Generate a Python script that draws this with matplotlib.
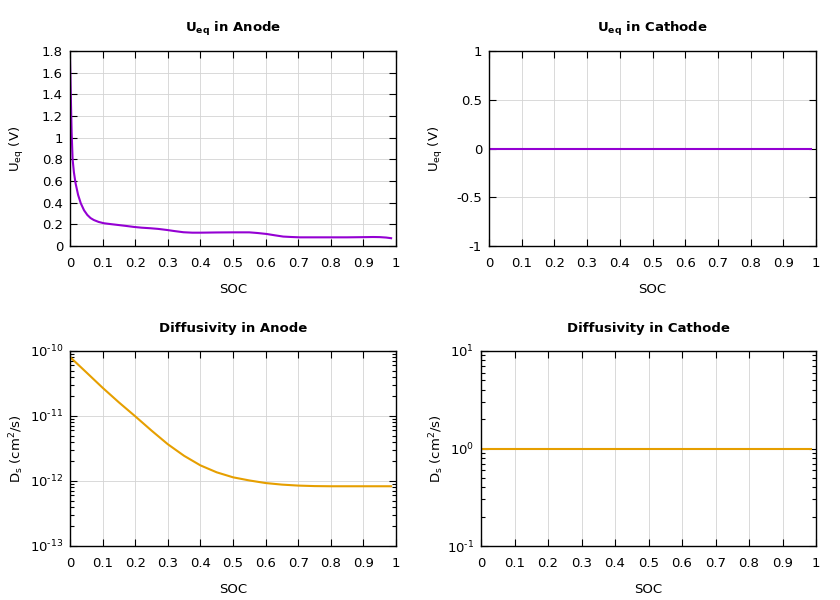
import numpy as np
import matplotlib.pyplot as plt
from matplotlib.ticker import FixedLocator, LogLocator, NullFormatter

plt.rcParams['font.family'] = ['DejaVu Sans']
plt.rcParams['mathtext.fontset'] = 'dejavusans'
plt.rcParams['font.size'] = 9.5

# anode equilibrium potential
soc_u = [0.0, 0.002, 0.005, 0.008, 0.012, 0.017, 0.025, 0.033, 0.043, 0.053,
         0.063, 0.073, 0.088, 0.104, 0.125, 0.145, 0.17, 0.196, 0.22, 0.246,
         0.27, 0.297, 0.32, 0.348, 0.375, 0.40, 0.45, 0.50, 0.55, 0.575, 0.603,
         0.63, 0.654, 0.68, 0.705, 0.75, 0.806, 0.85, 0.908, 0.93, 0.95, 0.97, 0.985]
u_anode = [1.74, 1.45, 1.05, 0.80, 0.68, 0.58, 0.47, 0.395, 0.33, 0.287,
           0.258, 0.24, 0.222, 0.21, 0.202, 0.195, 0.186, 0.176, 0.169, 0.164,
           0.158, 0.148, 0.138, 0.127, 0.123, 0.123, 0.125, 0.126, 0.126, 0.12, 0.111,
           0.098, 0.087, 0.083, 0.08, 0.08, 0.08, 0.08, 0.082, 0.083, 0.082, 0.078, 0.072]

# anode diffusivity
soc_d = [0.0, 0.05, 0.10, 0.15, 0.20, 0.25, 0.30, 0.35, 0.40, 0.45, 0.50,
         0.55, 0.60, 0.65, 0.70, 0.75, 0.80, 0.90, 0.985]
d_anode = [8.1e-11, 4.7e-11, 2.72e-11, 1.62e-11, 9.9e-12, 5.97e-12, 3.68e-12,
           2.44e-12, 1.74e-12, 1.36e-12, 1.14e-12, 1.02e-12, 9.3e-13, 8.8e-13,
           8.5e-13, 8.35e-13, 8.3e-13, 8.3e-13, 8.3e-13]

# cathode: constant
soc_c = [0.0, 0.985]
u_cathode = [0.0, 0.0]
d_cathode = [1.0, 1.0]

xticks = np.round(np.arange(0, 1.01, 0.1), 1)

purple = '#9400D3'
orange = '#E69F00'

fig = plt.figure(figsize=(8.4, 6.0), dpi=100)
ax1 = fig.add_axes([70/840, 1-246/600, 326/840, 195/600])
ax2 = fig.add_axes([489/840, 1-246/600, 327/840, 195/600])
ax3 = fig.add_axes([70/840, 1-546/600, 326/840, 195/600])
ax4 = fig.add_axes([481/840, 1-546/600, 335/840, 195/600])


def style(ax, ylabel, ylx):
    ax.set_xlim(0, 1)
    ax.set_xticks(xticks)
    ax.set_xticklabels(['%g' % t for t in xticks])
    ax.grid(True, which='major', color='#d3d3d3', linewidth=0.6)
    ax.set_axisbelow(True)
    ax.tick_params(which='both', direction='in', top=True, right=True, width=0.8)
    ax.tick_params(which='major', length=5)
    ax.tick_params(which='minor', length=3)
    ax.tick_params(axis='x', pad=8)
    ax.tick_params(axis='y', pad=5)
    for s in ax.spines.values():
        s.set_linewidth(1.0)
    ax.set_xlabel('SOC')
    ax.xaxis.set_label_coords(0.5, -0.19)
    ax.set_ylabel(ylabel)
    ax.yaxis.set_label_coords(ylx, 0.5)


ax1.plot(soc_u, u_anode, color=purple, lw=1.5)
ax1.set_ylim(0, 1.8)
ax1.set_yticks(np.round(np.arange(0, 1.81, 0.2), 1))
ax1.set_yticklabels(['%g' % t for t in np.round(np.arange(0, 1.81, 0.2), 1)])
style(ax1, r'U$_\mathrm{eq}$ (V)', -0.135)
ax1.set_title(r'$\mathbf{U}_\mathbf{eq}$ in Anode', fontweight='bold', fontsize=9.5, pad=14)

ax2.plot(soc_c, u_cathode, color=purple, lw=1.5)
ax2.set_ylim(-1, 1)
ax2.set_yticks([-1, -0.5, 0, 0.5, 1])
ax2.set_yticklabels(['-1', '-0.5', '0', '0.5', '1'])
style(ax2, r'U$_\mathrm{eq}$ (V)', -0.135)
ax2.set_title(r'$\mathbf{U}_\mathbf{eq}$ in Cathode', fontweight='bold', fontsize=9.5, pad=14)


def logaxis(ax, lo, hi):
    ax.set_yscale('log')
    ax.set_ylim(10.0**lo, 10.0**hi)
    exps = list(range(lo, hi + 1))
    ax.yaxis.set_major_locator(FixedLocator([10.0**e for e in exps]))
    ax.set_yticklabels([r'10$^{\text{%d}}$' % e for e in exps])
    ax.yaxis.set_minor_locator(LogLocator(base=10, subs=np.arange(2, 10), numticks=20))
    ax.yaxis.set_minor_formatter(NullFormatter())


ax3.plot(soc_d, d_anode, color=orange, lw=1.5)
logaxis(ax3, -13, -10)
style(ax3, r'D$_\mathrm{s}$ (cm$^2$/s)', -0.135)
ax3.set_title('Diffusivity in Anode', fontweight='bold', fontsize=9.5, pad=14)

ax4.plot(soc_c, d_cathode, color=orange, lw=1.5)
logaxis(ax4, -1, 1)
style(ax4, r'D$_\mathrm{s}$ (cm$^2$/s)', -0.105)
ax4.set_title('Diffusivity in Cathode', fontweight='bold', fontsize=9.5, pad=14)

fig.savefig('out.png', dpi=100)
